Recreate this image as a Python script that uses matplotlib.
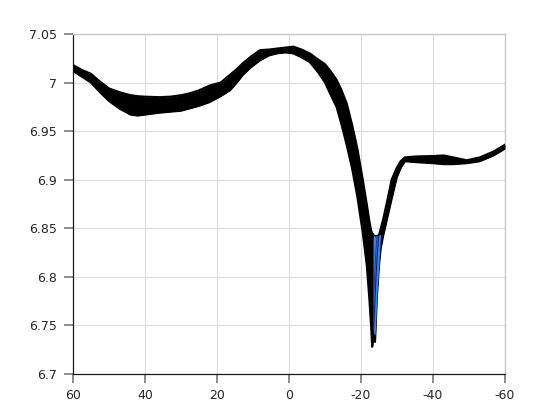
import matplotlib
matplotlib.use("Agg")
import matplotlib.pyplot as plt
import numpy as np

# ---- data ----
x_vals = [60, 57.5, 55, 52.5, 50, 47, 44, 42, 40, 36, 33, 30, 27.5, 25, 22, 19,
          16.4, 14.5, 12.8, 10.5, 8, 5.5, 3.4, 1, -1.2, -3.5, -5.8, -8, -10,
          -11.5, -13.2, -14.5, -16, -17.5, -19, -20.5, -21.6, -22.3, -22.8,
          -23.1, -23.5, -23.9, -24.1, -24.4, -25.0, -25.5, -26.2, -27.5, -28.5,
          -29.9, -31, -32.2, -35.5, -40, -42.9, -45.6, -49.4, -53, -56.8, -60]
upper_vals = [7.018, 7.013, 7.009, 7.001, 6.994, 6.990, 6.987, 6.986, 6.9855, 6.985,
              6.9855, 6.987, 6.989, 6.992, 6.997, 7.000, 7.008, 7.014, 7.020, 7.027,
              7.0335, 7.034, 7.035, 7.036, 7.037, 7.034, 7.030, 7.024, 7.019, 7.012,
              7.003, 6.993, 6.979, 6.957, 6.932, 6.900, 6.875, 6.858, 6.848, 6.845,
              6.843, 6.842, 6.842, 6.842, 6.843, 6.850, 6.860, 6.882, 6.900, 6.912,
              6.919, 6.923, 6.924, 6.9244, 6.925, 6.923, 6.920, 6.923, 6.929, 6.936]
lower_vals = [7.012, 7.006, 7.000, 6.990, 6.981, 6.973, 6.967, 6.966, 6.967, 6.969,
              6.970, 6.971, 6.9735, 6.976, 6.980, 6.986, 6.992, 7.000, 7.008, 7.016,
              7.023, 7.028, 7.030, 7.031, 7.030, 7.026, 7.021, 7.011, 7.000, 6.988,
              6.975, 6.958, 6.936, 6.912, 6.882, 6.845, 6.812, 6.778, 6.750, 6.728,
              6.738, 6.733, 6.750, 6.778, 6.812, 6.830, 6.843, 6.864, 6.880, 6.902,
              6.912, 6.919, 6.918, 6.917, 6.916, 6.916, 6.917, 6.919, 6.925, 6.932]

# blue faces visible inside the dip
blue_x = [-23.35, -23.5, -23.9, -24.1, -24.4, -25.0, -25.4]
blue_top = [6.842, 6.842, 6.842, 6.842, 6.842, 6.843, 6.844]
blue_bot = [6.748, 6.742, 6.740, 6.752, 6.780, 6.814, 6.840]

stripe1_x = [-23.5, -23.8, -24.1, -24.5, -24.9]
stripe1_y = [6.748, 6.768, 6.795, 6.822, 6.842]
stripe2_x = [-23.45, -23.65, -23.85, -24.15, -24.45]
stripe2_y = [6.775, 6.790, 6.806, 6.828, 6.842]

x_ticks = [60, 40, 20, 0, -20, -40, -60]
y_ticks = [6.7, 6.75, 6.8, 6.85, 6.9, 6.95, 7.0, 7.05]
y_tick_labels = ["6.7", "6.75", "6.8", "6.85", "6.9", "6.95", "7", "7.05"]

# ---- figure ----
plt.rcParams['font.family'] = ['DejaVu Sans']
fig = plt.figure(figsize=(5.6, 4.2), dpi=100)
ax = fig.add_axes([73/560, 46/420, 432/560, 340/420])

xa = np.array(x_vals)
ua = np.array(upper_vals)
la = np.array(lower_vals)

ax.fill_between(xa, la, ua, color='black', linewidth=0, zorder=3)
ax.plot(xa, ua, color='black', lw=1.5, zorder=4, solid_joinstyle='round')
ax.plot(xa, la, color='black', lw=1.5, zorder=4, solid_joinstyle='round')

ax.fill_between(blue_x, blue_bot, blue_top, color='#3584e4', linewidth=0, zorder=5)
ax.plot(stripe1_x, stripe1_y, color='#1c1f6e', lw=0.8, zorder=6)
ax.plot(stripe2_x, stripe2_y, color='#2a3396', lw=0.7, zorder=6)

ax.set_xlim(60, -60)
ax.set_ylim(6.7, 7.05)
ax.set_xticks(x_ticks)
ax.set_xticklabels([str(t) for t in x_ticks])
ax.set_yticks(y_ticks)
ax.set_yticklabels(y_tick_labels)

ax.grid(True, color='#dedede', lw=0.8, zorder=0)
ax.set_axisbelow(True)

for s in ['left', 'bottom']:
    ax.spines[s].set_color('#1a1a1a')
    ax.spines[s].set_linewidth(0.9)
for s in ['top', 'right']:
    ax.spines[s].set_color('#c8c8c8')
    ax.spines[s].set_linewidth(1.0)

ax.tick_params(axis='both', direction='out', length=6.5, width=1.2,
               color='#7a7a7a', labelsize=9, labelcolor='#262626', pad=4)
ax.tick_params(axis='y', pad=5)

fig.savefig('out.png', dpi=100)
